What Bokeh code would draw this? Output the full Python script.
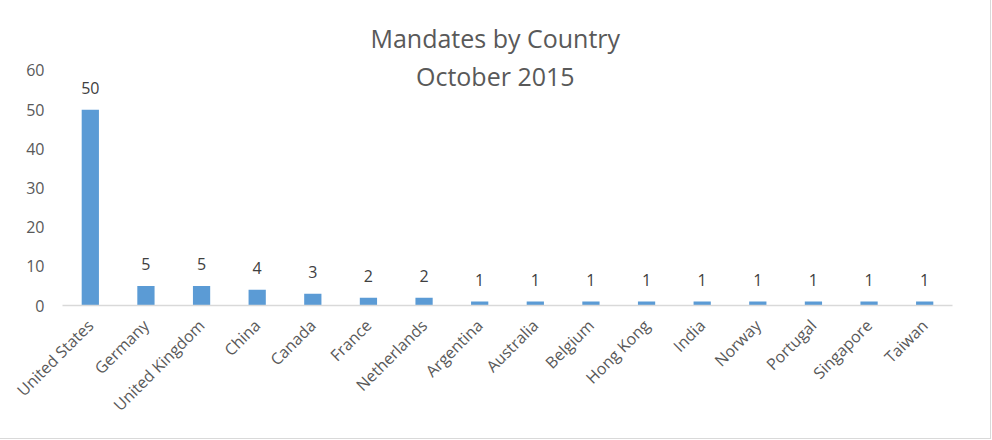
from bokeh.plotting import figure
from bokeh.models import ColumnDataSource, LabelSet, Label, Range1d, FixedTicker
from bokeh.core.properties import value
from bokeh.embed import file_html
from bokeh.resources import INLINE
import math

countries = ["United States", "Germany", "United Kingdom", "China", "Canada", "France",
             "Netherlands", "Argentina", "Australia", "Belgium", "Hong Kong", "India",
             "Norway", "Portugal", "Singapore", "Taiwan"]
mandates = [50, 5, 5, 4, 3, 2, 2, 1, 1, 1, 1, 1, 1, 1, 1, 1]
y_ticks = [0, 10, 20, 30, 40, 50, 60]
title_line1 = "Mandates by Country"
title_line2 = "October 2015"

FONT = "Open Sans"

src = ColumnDataSource(dict(country=countries, mandates=mandates,
                            label=[str(v) for v in mandates]))

p = figure(width=990, height=438, x_range=countries, y_range=Range1d(0, 74.8),
           output_backend="svg", toolbar_location=None,
           min_border_left=62, min_border_right=38, min_border_top=12, min_border_bottom=133)
p.x_range.range_padding = 0
p.outline_line_color = None
p.background_fill_color = "white"
p.border_fill_color = "white"
p.styles = {"outline": "1px solid #d9d9d9"}

p.vbar(x="country", top="mandates", width=0.31, source=src,
       fill_color="#5B9BD5", line_color=None)

labels = LabelSet(x="country", y="mandates", text="label", source=src,
                  text_align="center", text_baseline="middle", y_offset=22,
                  text_font=value(FONT), text_font_size="16px", text_color="#404040")
p.add_layout(labels)

p.xgrid.grid_line_color = None
p.ygrid.grid_line_color = None

p.yaxis.ticker = FixedTicker(ticks=y_ticks)
p.yaxis.axis_line_color = None
p.yaxis.major_tick_line_color = None
p.yaxis.minor_tick_line_color = None
p.yaxis.major_tick_out = 0
p.yaxis.major_label_standoff = 18
p.yaxis.major_label_text_font = FONT
p.yaxis.major_label_text_font_size = "16px"
p.yaxis.major_label_text_color = "#595959"

p.xaxis.axis_line_color = "#d9d9d9"
p.xaxis.axis_line_width = 1.5
p.xaxis.major_tick_line_color = None
p.xaxis.minor_tick_line_color = None
p.xaxis.major_tick_out = 0
p.xaxis.major_label_standoff = 17
p.xaxis.major_label_orientation = math.pi / 4
p.xaxis.major_label_text_font = FONT
p.xaxis.major_label_text_font_size = "16px"
p.xaxis.major_label_text_color = "#595959"

t1 = Label(x=7.78, y=68.3, text=title_line1, text_align="center", text_baseline="middle",
           text_font=FONT, text_font_size="25px", text_color="#595959")
t2 = Label(x=7.78, y=58.5, text=title_line2, text_align="center", text_baseline="middle",
           text_font=FONT, text_font_size="25px", text_color="#595959")
p.add_layout(t1)
p.add_layout(t2)

open("out.html", "w").write(file_html(p, INLINE))
